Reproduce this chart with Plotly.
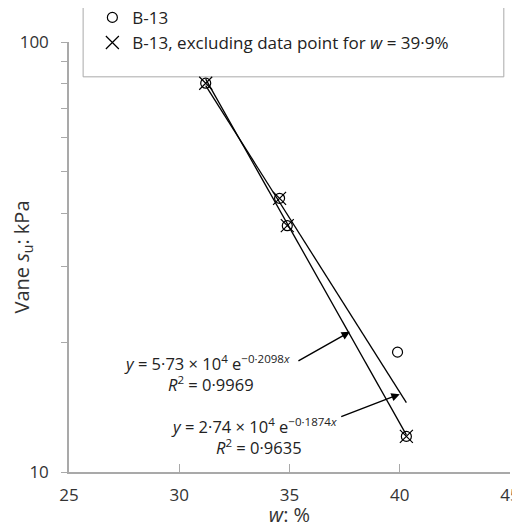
import plotly.graph_objects as go

# water content w (%) and vane shear strength (kPa), borehole B-13
w_all = [31.2, 34.55, 34.9, 39.9, 40.3]
su_all = [80.2, 43.3, 37.4, 19.0, 12.1]

# same data without the point at w = 39.9%
w_excl = [31.2, 34.55, 34.9, 40.3]
su_excl = [80.2, 43.3, 37.4, 12.1]

# trendline end points
trend_all_x = [31.2, 40.3]
trend_all_y = [79.2, 14.5]
trend_excl_x = [31.2, 40.3]
trend_excl_y = [82.0, 12.2]

x_ticks = [25, 30, 35, 40, 45]
y_ticks = [10, 20, 30, 40, 50, 60, 70, 80, 90, 100]
y_ticklabels = ["10", "", "", "", "", "", "", "", "", "100"]

FONT = "Open Sans"
AXIS_GREY = "#a9a9a9"

fig = go.Figure()

fig.add_trace(go.Scatter(x=trend_all_x, y=trend_all_y, mode="lines",
                         line=dict(color="black", width=1.3), showlegend=False))
fig.add_trace(go.Scatter(x=trend_excl_x, y=trend_excl_y, mode="lines",
                         line=dict(color="black", width=1.3), showlegend=False))

fig.add_trace(go.Scatter(
    x=w_all, y=su_all, mode="markers", name="B-13",
    marker=dict(symbol="circle-open", size=10, color="black", line=dict(width=1.2))))
fig.add_trace(go.Scatter(
    x=w_excl, y=su_excl, mode="markers",
    name="B-13, excluding data point for <i>w</i> = 39·9%",
    marker=dict(symbol="x-thin-open", size=13, color="black", line=dict(width=1.2))))

# dummy trace so the cross ticks on the y axis can sit on a second axis
fig.add_trace(go.Scatter(x=[None], y=[None], yaxis="y2", showlegend=False))

# equation labels, one annotation per line (y in log10 units)
eq_font = dict(family=FONT, size=16.5, color="#222")
eq_lines = [
    (31.24, 1.2535, "<i>y</i> = 5·73 × 10<sup>4</sup> e<sup>−0·2098<i>x</i></sup>"),
    (31.44, 1.204, "<i>R</i><sup>2</sup> = 0·9969"),
    (33.39, 1.107, "<i>y</i> = 2·74 × 10<sup>4</sup> e<sup>−0·1874<i>x</i></sup>"),
    (33.62, 1.058, "<i>R</i><sup>2</sup> = 0·9635"),
]
for ex, ey, txt in eq_lines:
    fig.add_annotation(x=ex, y=ey, xref="x", yref="y", showarrow=False,
                       text=txt, font=eq_font)

# arrows pointing at the two trendlines
fig.add_annotation(x=37.74, y=1.326, xref="x", yref="y", text="", showarrow=True,
                   ax=-53, ay=30, arrowhead=2, arrowsize=1.2, arrowwidth=1.4,
                   arrowcolor="black")
fig.add_annotation(x=40.0, y=1.181, xref="x", yref="y", text="", showarrow=True,
                   ax=-60, ay=23, arrowhead=2, arrowsize=1.2, arrowwidth=1.4,
                   arrowcolor="black")

# legend box
fig.add_shape(type="rect", xref="paper", yref="paper",
              x0=0.032, x1=0.986, y0=0.919, y1=1.093,
              line=dict(color=AXIS_GREY, width=1), fillcolor="white", layer="below")

# page body has an 8px margin, so the figure is 8px smaller than the window
fig.update_layout(
    width=512, height=520,
    margin=dict(l=61, r=10, t=34, b=56, autoexpand=False),
    plot_bgcolor="white", paper_bgcolor="white",
    font=dict(family=FONT, size=17, color="#333"),
    showlegend=True,
    legend=dict(x=0.053, y=1.098, xanchor="left", yanchor="top",
                bgcolor="rgba(0,0,0,0)", borderwidth=0,
                font=dict(family=FONT, size=17, color="#222"),
                tracegroupgap=0, itemwidth=30),
    xaxis=dict(range=[25, 45], tickvals=x_ticks, ticks="inside", ticklen=8,
               tickcolor=AXIS_GREY, showline=True, linecolor=AXIS_GREY, linewidth=1.5,
               showgrid=False, zeroline=False, automargin=False, ticklabelstandoff=7,
               title=dict(text="<i>w</i>: %", standoff=0)),
    yaxis=dict(type="log", range=[1, 2], tickvals=y_ticks, ticktext=y_ticklabels,
               ticks="outside", ticklen=6, tickcolor=AXIS_GREY,
               showline=True, linecolor=AXIS_GREY, linewidth=1.5,
               showgrid=False, zeroline=False, automargin=False, ticklabelstandoff=9,
               title=dict(text="Vane <i>s</i><sub>u</sub>: kPa", standoff=2)),
    yaxis2=dict(type="log", range=[1, 2], overlaying="y", side="left",
                tickvals=[10, 100], ticks="inside", ticklen=7, tickcolor=AXIS_GREY,
                showticklabels=False, showgrid=False, showline=False, zeroline=False),
)

fig.write_html("out.html")
